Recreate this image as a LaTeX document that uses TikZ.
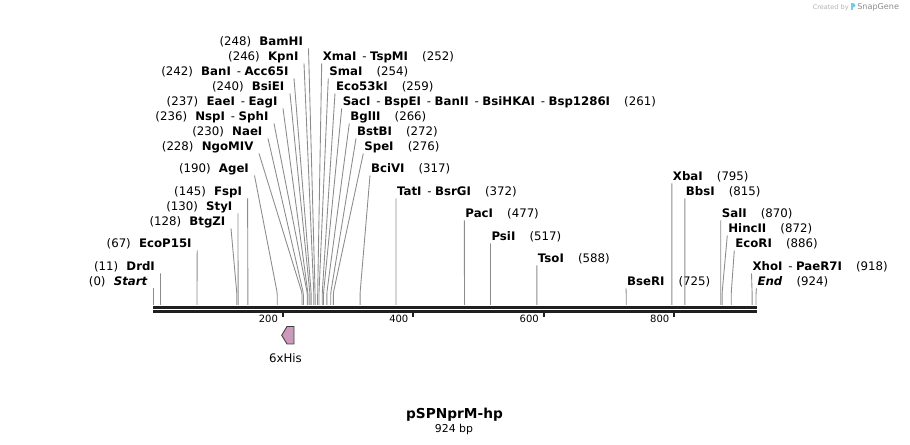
\documentclass[tikz,border=0pt]{standalone}
\usepackage{fontspec}
\setmainfont{DejaVu Sans}
\definecolor{hispink}{RGB}{205,153,186}
\definecolor{snapblue}{RGB}{120,200,240}
\newcommand\numgap{\hspace{0.7em}}
\newcommand\posgap{\hspace{1.2em}}
\newcommand\altsep{\hspace{0.5em}-\hspace{0.3em}}
\newcommand\enz[1]{\textbf{#1}}
\tikzset{cutline/.style={draw=black!45,line width=0.5pt,rounded corners=1pt},
  sitelbl/.style={font=\fontsize{6.7}{8}\selectfont,inner ysep=0pt,text depth=1.2pt},
  leftlbl/.style={sitelbl,anchor=base east,inner xsep=3pt},
  rightlbl/.style={sitelbl,anchor=base west,inner xsep=0.4pt},
  seqline/.style={draw=black!88,line cap=butt},
  ticklbl/.style={font=\fontsize{5.7}{7}\selectfont,anchor=base east,inner sep=0pt},
}

\begin{document}
\begin{tikzpicture}[x=0.02cm,y=-0.02cm]
\useasboundingbox (0,0) rectangle (910,445);
\coordinate (axL) at (153.3,307.5);
\coordinate (axR) at (757,307.5);
\coordinate (axL2) at (153.3,311.3);
\coordinate (axR2) at (757,311.3);
\draw[seqline,line width=1.7pt] (axL) -- (axR);
\draw[seqline,line width=1.4pt] (axL2) -- (axR2);
\foreach \t in {200,400,600,800}
 {\coordinate (t\t) at ({152.3+0.6523*\t},311.5);
  \draw[seqline,line width=1.2pt] (t\t) -- ++(0,5.5);
  \node[ticklbl] (tl\t) at ({152.3+0.6523*\t-4.5},322.5) {\t};}
\foreach \p/\n/\x/\y/\t in {0/Start/153.3/286/{(0)\numgap\enz{\textit{Start}}},
  11/DrdI/160.5/271/{(11)\numgap\enz{DrdI}},
  67/EcoP15I/197.2/248/{(67)\numgap\enz{EcoP15I}},
  128/BtgZI/231/226/{(128)\numgap\enz{BtgZI}},
  130/StyI/238/211/{(130)\numgap\enz{StyI}},
  145/FspI/247.6/196/{(145)\numgap\enz{FspI}},
  190/AgeI/254.5/173/{(190)\numgap\enz{AgeI}},
  228/NgoMIV/259/151/{(228)\numgap\enz{NgoMIV}},
  230/NaeI/268/136/{(230)\numgap\enz{NaeI}},
  236/NspI/274/121/{(236)\numgap\enz{NspI}\altsep\enz{SphI}},
  237/EaeI/283/106/{(237)\numgap\enz{EaeI}\altsep\enz{EagI}},
  240/BsiEI/290/91/{(240)\numgap\enz{BsiEI}},
  242/BanI/294/76/{(242)\numgap\enz{BanI}\altsep\enz{Acc65I}},
  246/KpnI/304/61/{(246)\numgap\enz{KpnI}},
  248/BamHI/308.5/46/{(248)\numgap\enz{BamHI}}}
 {\coordinate (s\n) at ({153.3+0.6523*\p},305);
  \node[leftlbl] (l\n) at (\x,\y) {\t};
  \draw[cutline] (s\n) -- ++(0,-12) -- (l\n.south east);}
\foreach \p/\n/\x/\y/\t in {252/XmaI/321.7/61/{\enz{XmaI}\altsep\enz{TspMI}\posgap(252)},
  254/SmaI/328.3/76/{\enz{SmaI}\posgap(254)},
  259/Eco53kI/335/91/{\enz{Eco53kI}\posgap(259)},
  261/SacI/341.7/106/{\enz{SacI}\altsep\enz{BspEI}\altsep\enz{BanII}\altsep\enz{BsiHKAI}\altsep\enz{Bsp1286I}\posgap(261)},
  266/BglII/349.3/121/{\enz{BglII}\posgap(266)},
  272/BstBI/356/136/{\enz{BstBI}\posgap(272)},
  276/SpeI/363.3/151/{\enz{SpeI}\posgap(276)},
  317/BciVI/370/173/{\enz{BciVI}\posgap(317)},
  372/TatI/396/196/{\enz{TatI}\altsep\enz{BsrGI}\posgap(372)},
  477/PacI/464.4/218/{\enz{PacI}\posgap(477)},
  517/PsiI/490.5/241/{\enz{PsiI}\posgap(517)},
  588/TsoI/536.9/263/{\enz{TsoI}\posgap(588)},
  725/BseRI/626/286/{\enz{BseRI}\posgap(725)},
  795/XbaI/671.9/181/{\enz{XbaI}\posgap(795)},
  815/BbsI/684.9/196/{\enz{BbsI}\posgap(815)},
  870/SalI/720.8/218/{\enz{SalI}\posgap(870)},
  872/HincII/727.3/233/{\enz{HincII}\posgap(872)},
  886/EcoRI/734.3/248/{\enz{EcoRI}\posgap(886)},
  918/XhoI/751.5/271/{\enz{XhoI}\altsep\enz{PaeR7I}\posgap(918)},
  924/End/756.5/286/{\enz{\textit{End}}\posgap(924)}}
 {\coordinate (s\n) at ({153.3+0.6523*\p},305);
  \node[rightlbl] (r\n) at (\x,\y) {\t};
  \draw[cutline] (s\n) -- ++(0,-12) -- (r\n.south west);}
\draw[fill=hispink,draw=black!75,line width=0.5pt] (294,326.5) -- (287,326.5) -- (281.7,335.3)
  -- (287,344) -- (294,344) -- cycle;
\node[font=\fontsize{6.7}{8}\selectfont,anchor=base,inner sep=0pt] (his) at (285.5,362.5) {6xHis};
\node[font=\bfseries\fontsize{7.8}{9}\selectfont,anchor=base,inner sep=0pt] (title) at (454.5,419) {pSPNprM-hp};
\node[font=\fontsize{6.2}{7}\selectfont,anchor=base,inner sep=0pt] (size) at (454,433) {924 bp};
\node[font=\fontsize{3.7}{4}\selectfont,text=black!30,anchor=base east,inner sep=0pt] (made) at (849,10) {Created by};
\fill[snapblue] (851,3) rectangle (852.6,10.5);
\fill[snapblue] (852.6,3) .. controls (856.5,3.3) and (856.5,7.6) .. (852.6,7.6) -- cycle;
\node[font=\fontsize{4.6}{5}\selectfont,text=black!45,anchor=base west,inner sep=0pt] (snap) at (857,10) {SnapGene};
\end{tikzpicture}
\end{document}
